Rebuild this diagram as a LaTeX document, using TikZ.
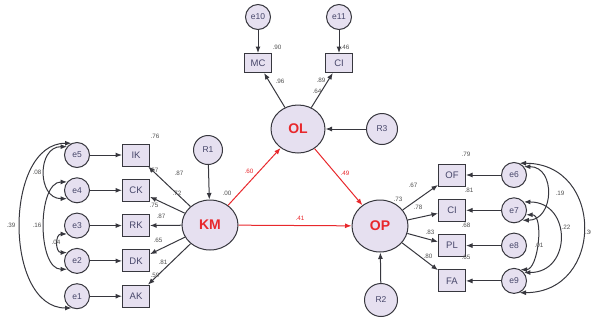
\documentclass[tikz,border=0pt]{standalone}
\usepackage{fontspec}
\setmainfont{Liberation Sans}
\usetikzlibrary{arrows.meta,positioning,shapes.geometric}
\definecolor{amosfill}{RGB}{230,224,240}
\definecolor{amosline}{RGB}{55,55,62}
\definecolor{amostext}{RGB}{70,70,105}
\definecolor{amosred}{RGB}{232,40,44}
\definecolor{amosgray}{RGB}{80,80,80}

\begin{document}
\begin{tikzpicture}[
    x=1pt, y=-1pt,
    node distance=12.3pt,
    box/.style={
        rectangle,
        draw=amosline,
        fill=amosfill,
        line width=1pt,
        minimum width=27pt,
        minimum height=22pt,
        inner sep=0pt,
        font=\fontsize{9.5}{10}\selectfont,
        text=amostext
    },
    err/.style={
        circle,
        draw=amosline,
        fill=amosfill,
        line width=1pt,
        minimum size=25pt,
        inner sep=0pt,
        font=\fontsize{8.5}{9}\selectfont,
        text=amostext
    },
    res/.style={
        err,
        minimum size=31pt
    },
    lat/.style={
        ellipse,
        draw=amosline,
        fill=amosfill,
        line width=1pt,
        minimum width=56pt,
        minimum height=50pt,
        inner sep=0pt,
        font=\fontsize{14}{16}\selectfont\bfseries,
        text=amosred
    },
    arr/.style={
        -{Latex[length=6.5pt,width=5pt]},
        line width=1pt,
        amosline
    },
    redarr/.style={
        arr,
        amosred
    },
    cov/.style={
        {Latex[length=6.5pt,width=5pt]}-{Latex[length=6.5pt,width=5pt]},
        line width=1pt,
        amosline
    },
    est/.style={
        font=\fontsize{6.3}{7}\selectfont,
        text=amosgray,
        inner sep=0pt
    },
    redest/.style={
        est,
        text=amosred
    }
]
\useasboundingbox (0,0) rectangle (591,322);

% Latent variables
\node[lat] (km) at (210,225) {KM};
\node[lat, minimum width=54pt, minimum height=48pt] (ol) at (298,129) {OL};
\node[lat, minimum height=52pt] (op) at (380,226) {OP};

% Residuals
\node[res, minimum size=29pt] (r1) at (208,150) {R1};
\node[res] (r3) at (382,129) {R3};
\node[res, minimum size=33pt] (r2) at (381,300) {R2};

% KM indicators
\node[box] (ik) at (136,155) {IK};
\node[box, below=of ik] (ck) {CK};
\node[box, below=of ck] (rk) {RK};
\node[box, below=of rk] (dk) {DK};
\node[box, below=of dk] (ak) {AK};

\node[err, left=32pt of ik] (e5) {e5};
\node[err, left=32pt of ck] (e4) {e4};
\node[err, left=32pt of rk] (e3) {e3};
\node[err, left=32pt of dk] (e2) {e2};
\node[err, left=32pt of ak] (e1) {e1};

% OL indicators
\node[box, minimum height=19pt] (mc) at (258,63) {MC};
\node[box, minimum height=19pt] (ciol) at (339,63) {CI};
\node[err, above=23pt of mc] (e10) {e10};
\node[err, above=23pt of ciol] (e11) {e11};

% OP indicators
\node[box] (of) at (452,175) {OF};
\node[box, below=of of] (ciop) {CI};
\node[box, below=of ciop] (pl) {PL};
\node[box, below=of pl] (fa) {FA};

\node[err, right=35pt of of] (e6) {e6};
\node[err, right=35pt of ciop] (e7) {e7};
\node[err, right=35pt of pl] (e8) {e8};
\node[err, right=35pt of fa] (e9) {e9};

% Measurement arrows
\draw[arr] (km) -- (ik);
\draw[arr] (km) -- (ck);
\draw[arr] (km) -- (rk);
\draw[arr] (km) -- (dk);
\draw[arr] (km) -- (ak);
\draw[arr] (e5) -- (ik);
\draw[arr] (e4) -- (ck);
\draw[arr] (e3) -- (rk);
\draw[arr] (e2) -- (dk);
\draw[arr] (e1) -- (ak);

\draw[arr] (ol) -- (mc);
\draw[arr] (ol) -- (ciol);
\draw[arr] (e10) -- (mc);
\draw[arr] (e11) -- (ciol);

\draw[arr] (op) -- (of);
\draw[arr] (op) -- (ciop);
\draw[arr] (op) -- (pl);
\draw[arr] (op) -- (fa);
\draw[arr] (e6) -- (of);
\draw[arr] (e7) -- (ciop);
\draw[arr] (e8) -- (pl);
\draw[arr] (e9) -- (fa);

% Residual arrows
\draw[arr] (r1) -- (km);
\draw[arr] (r3) -- (ol);
\draw[arr] (r2) -- (op);

% Structural paths
\draw[redarr] (km) -- (ol);
\draw[redarr] (ol) -- (op);
\draw[redarr] (km) -- (op);

% Covariances left
\draw[cov] (e5.140) .. controls +(-30,0) and +(-30,0) .. (e4.220);
\draw[cov] (e4.140) .. controls +(-30,0) and +(-30,0) .. (e2.220);
\draw[cov] (e3.220) .. controls +(-12,0) and +(-12,0) .. (e2.140);
\draw[cov] (e5.115) .. controls +(-68,0) and +(-68,0) .. (e1.245);

% Covariances right
\draw[cov] (e6.40) .. controls +(32,0) and +(32,0) .. (e7.310);
\draw[cov] (e7.40) .. controls +(48,0) and +(48,0) .. (e9.40);
\draw[cov] (e7.340) .. controls +(18,0) and +(18,0) .. (e9.60);
\draw[cov] (e6.65) .. controls +(85,0) and +(85,0) .. (e9.295);

% Estimates KM side
\node[est] (sik) at (155,136) {.76};
\node[est] (sck) at (154,170) {.57};
\node[est] (srk) at (154,205) {.75};
\node[est] (sdk) at (158,240) {.65};
\node[est] (sak) at (155,275) {.59};
\node[est] (lik) at (179,173) {.87};
\node[est] (lck) at (177,193) {.72};
\node[est] (lrk) at (161,216) {.87};
\node[est] (ldk) at (163,262) {.81};
\node[est] (skm) at (227,193) {.00};

% Estimates OL side
\node[est] (smc) at (277,47) {.90};
\node[est] (sciol) at (345,47) {.46};
\node[est] (lmc) at (280,81) {.96};
\node[est] (lciol) at (321,80) {.89};
\node[est] (sol) at (317,91) {.64};

% Estimates OP side
\node[est] (sop) at (398,199) {.73};
\node[est] (lof) at (413,185) {.67};
\node[est] (lciop) at (418,207) {.78};
\node[est] (lpl) at (430,232) {.83};
\node[est] (lfa) at (428,256) {.80};
\node[est] (sof) at (466,154) {.79};
\node[est] (sciop) at (469,190) {.81};
\node[est] (spl) at (466,225) {.68};
\node[est] (sfa) at (466,257) {.65};

% Path estimates
\node[redest] (lkmol) at (249,171) {.60};
\node[redest] (lolop) at (345,173) {.49};
\node[redest] (lkmop) at (300,218) {.41};

% Covariance estimates
\node[est] (c51) at (11,225) {.39};
\node[est] (c42) at (37,225) {.16};
\node[est] (c54) at (37,172) {.08};
\node[est] (c32) at (56,242) {.04};
\node[est] (c67) at (560,193) {.19};
\node[est] (c79) at (566,227) {.22};
\node[est] (c79b) at (539,245) {.01};
\node[est, anchor=west] (c69) at (585,232) {.30};

\end{tikzpicture}
\end{document}
